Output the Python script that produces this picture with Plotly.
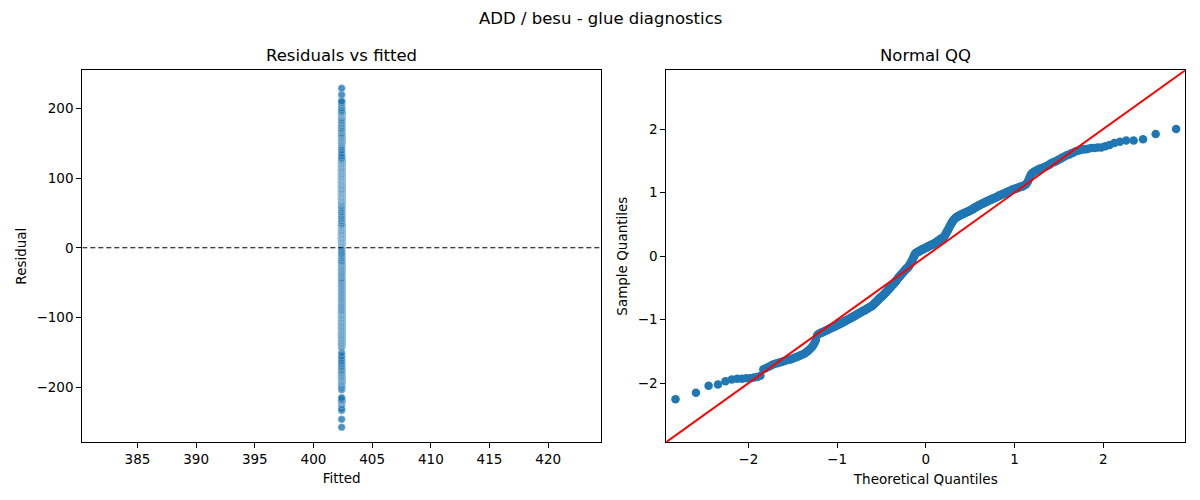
import plotly.graph_objects as go
from statistics import NormalDist

# ---------------- data ----------------
title_text = "ADD / besu - glue diagnostics"
fitted_value = 402.4          # single fitted value of the model
resid_sd = 114.6              # scale used to standardise residuals

# sorted standardised residuals (sample quantiles)
sample_quantiles = [
    -2.25, -2.15, -2.04, -2.02, -1.97, -1.94, -1.93, -1.93, -1.92, -1.92,
    -1.91, -1.90, -1.88,
    -1.78, -1.76, -1.74, -1.72, -1.70, -1.69, -1.68, -1.67, -1.66, -1.65, -1.64, -1.63, -1.63, -1.62,
    -1.61, -1.60, -1.59, -1.58, -1.57, -1.56, -1.55, -1.54, -1.53, -1.51, -1.50, -1.48, -1.46, -1.44,
    -1.42, -1.39, -1.36, -1.32,
    -1.25, -1.23, -1.22,
    -1.21, -1.20, -1.20, -1.19, -1.18, -1.17, -1.17, -1.16, -1.15, -1.14, -1.14, -1.13, -1.12, -1.12,
    -1.11, -1.10, -1.10, -1.09,
    -1.08, -1.07, -1.07, -1.06, -1.05, -1.05, -1.04, -1.03, -1.03, -1.02, -1.01, -1.01, -1.00, -0.99,
    -0.99, -0.98, -0.97, -0.97, -0.96, -0.95, -0.95, -0.94,
    -0.93, -0.93, -0.92, -0.91, -0.91, -0.90, -0.89, -0.89, -0.88, -0.88, -0.87, -0.86, -0.86,
    -0.85, -0.85, -0.84, -0.83, -0.83, -0.82, -0.81, -0.81, -0.80, -0.80, -0.79, -0.79, -0.78,
    -0.77, -0.76, -0.75, -0.74, -0.73, -0.72, -0.71, -0.70, -0.69, -0.68, -0.67, -0.66, -0.65, -0.65, -0.64,
    -0.63, -0.62, -0.61, -0.60, -0.59, -0.58, -0.57, -0.56, -0.55, -0.54, -0.53, -0.52, -0.51, -0.50, -0.49,
    -0.48, -0.47, -0.46, -0.45, -0.44, -0.43, -0.42, -0.41, -0.40, -0.39, -0.38, -0.36, -0.35, -0.34, -0.33,
    -0.32, -0.31, -0.30, -0.29, -0.28, -0.27, -0.26, -0.25, -0.24, -0.23, -0.22, -0.21, -0.20, -0.19, -0.19, -0.18,
    -0.17, -0.16, -0.14, -0.13, -0.11, -0.10, -0.08, -0.07, -0.05,
    -0.03, -0.01, 0.01, 0.03, 0.04,
    0.05, 0.05, 0.06, 0.06, 0.07, 0.07, 0.08, 0.08, 0.09, 0.09, 0.10, 0.10, 0.11, 0.11, 0.11, 0.12, 0.12, 0.13, 0.13,
    0.13, 0.14, 0.14, 0.15, 0.15, 0.16, 0.16, 0.16, 0.17, 0.17, 0.18, 0.18, 0.18, 0.19, 0.19, 0.20, 0.20,
    0.21, 0.21, 0.22, 0.22, 0.23, 0.24, 0.24, 0.25, 0.25, 0.26, 0.27, 0.27, 0.28, 0.28, 0.29, 0.29, 0.30,
    0.31, 0.33, 0.34, 0.36, 0.37, 0.39, 0.40, 0.42,
    0.44, 0.45, 0.47, 0.49, 0.50, 0.52, 0.53, 0.55,
    0.56, 0.57, 0.58, 0.59, 0.60, 0.61, 0.61, 0.62,
    0.62, 0.63, 0.63, 0.64, 0.64, 0.65, 0.65, 0.66, 0.66, 0.67, 0.67, 0.67, 0.68, 0.68, 0.69, 0.69, 0.70,
    0.70, 0.70, 0.71, 0.71, 0.72, 0.72,
    0.73, 0.73, 0.74, 0.74, 0.75, 0.76, 0.76, 0.77, 0.77, 0.78, 0.78, 0.79, 0.80, 0.80, 0.81, 0.81, 0.82,
    0.82, 0.83, 0.83, 0.84,
    0.84, 0.85, 0.85, 0.86, 0.86, 0.87, 0.87, 0.88, 0.88, 0.89, 0.89, 0.90, 0.90, 0.91, 0.91, 0.92, 0.92, 0.93, 0.93,
    0.94, 0.95, 0.95, 0.96, 0.96, 0.97, 0.97, 0.98, 0.98, 0.99, 0.99, 1.00, 1.01, 1.01, 1.02, 1.02, 1.03,
    1.04, 1.04, 1.05, 1.05, 1.06, 1.06, 1.07, 1.07, 1.08, 1.08, 1.09, 1.09, 1.10, 1.10, 1.11,
    1.12, 1.13, 1.15, 1.18, 1.22, 1.26, 1.29, 1.31,
    1.32, 1.33, 1.34, 1.35, 1.36, 1.37, 1.38, 1.38, 1.39, 1.40, 1.41,
    1.42, 1.43, 1.44, 1.46, 1.47, 1.48, 1.49, 1.50, 1.52,
    1.53, 1.55, 1.56, 1.58, 1.59,
    1.60, 1.62, 1.63, 1.65, 1.66,
    1.67, 1.68, 1.68, 1.69, 1.70,
    1.70, 1.71, 1.71,
    1.73, 1.75, 1.78, 1.80, 1.82, 1.82, 1.84, 1.92, 2.00,
]

left_xticks = [385, 390, 395, 400, 405, 410, 415, 420]
left_yticks = [-200, -100, 0, 100, 200]
qq_ticks = [-2, -1, 0, 1, 2]

# ---------------- derived ----------------
n = len(sample_quantiles)
nd = NormalDist()
theoretical = [nd.inv_cdf(i / (n + 1)) for i in range(1, n + 1)]
residuals = [s * resid_sd for s in sample_quantiles]
fitted = [fitted_value] * n

left_xrange = [380.3, 424.5]
left_yrange = [-279, 255]
qq_lim = 2.924

FONT = "DejaVu Sans"
C0 = "#1f77b4"

fig = go.Figure()

# Residuals vs fitted
fig.add_trace(go.Scatter(
    x=fitted, y=residuals, mode="markers", xaxis="x", yaxis="y",
    marker=dict(color=C0, size=7.5, opacity=0.8, line=dict(color="white", width=0.4)),
    showlegend=False, hoverinfo="skip"))
fig.add_trace(go.Scatter(
    x=left_xrange, y=[0, 0], mode="lines", xaxis="x", yaxis="y",
    line=dict(color="black", width=1.1, dash="5px,3px"), showlegend=False, hoverinfo="skip"))

# QQ
fig.add_trace(go.Scatter(
    x=theoretical, y=sample_quantiles, mode="markers", xaxis="x2", yaxis="y2",
    marker=dict(color=C0, size=8.5, line=dict(width=0)),
    showlegend=False, hoverinfo="skip"))
fig.add_trace(go.Scatter(
    x=[-qq_lim, qq_lim], y=[-qq_lim, qq_lim], mode="lines", xaxis="x2", yaxis="y2",
    line=dict(color="red", width=2), showlegend=False, hoverinfo="skip"))

axis_common = dict(
    showgrid=False, zeroline=False, showline=True, linecolor="black", linewidth=1.1,
    mirror=True, ticks="outside", ticklen=5, tickwidth=1.1, tickcolor="black",
    tickfont=dict(family=FONT, size=13.5, color="black"),
)

fig.update_layout(
    width=1200, height=500,
    margin=dict(l=0, r=0, t=0, b=0),
    paper_bgcolor="white", plot_bgcolor="white",
    font=dict(family=FONT, color="black"),
    xaxis=dict(domain=[82.3 / 1200, 601 / 1200], range=left_xrange, tickvals=left_xticks,
               title=dict(text="Fitted", font=dict(family=FONT, size=13.5), standoff=7),
               anchor="y", **axis_common),
    yaxis=dict(domain=[1 - 442 / 500, 1 - 70.3 / 500], range=left_yrange, tickvals=left_yticks,
               title=dict(text="Residual", font=dict(family=FONT, size=13.5), standoff=6),
               anchor="x", **axis_common),
    xaxis2=dict(domain=[666.3 / 1200, 1185.3 / 1200], range=[-qq_lim, qq_lim], tickvals=qq_ticks,
                title=dict(text="Theoretical Quantiles", font=dict(family=FONT, size=13.5), standoff=8),
                anchor="y2", **axis_common),
    yaxis2=dict(domain=[1 - 442 / 500, 1 - 70.3 / 500], range=[-qq_lim, qq_lim], tickvals=qq_ticks,
                title=dict(text="Sample Quantiles", font=dict(family=FONT, size=13.5), standoff=6),
                anchor="x2", **axis_common),
    annotations=[
        dict(text=title_text, x=0.5, y=1 - 18 / 500, xref="paper", yref="paper",
             xanchor="center", yanchor="middle", showarrow=False,
             font=dict(family=FONT, size=16.5, color="black")),
        dict(text="Residuals vs fitted", x=(82.3 + 601) / 2400, y=1 - 56 / 500, xref="paper", yref="paper",
             xanchor="center", yanchor="middle", showarrow=False,
             font=dict(family=FONT, size=16.5, color="black")),
        dict(text="Normal QQ", x=(666.3 + 1185.3) / 2400, y=1 - 56 / 500, xref="paper", yref="paper",
             xanchor="center", yanchor="middle", showarrow=False,
             font=dict(family=FONT, size=16.5, color="black")),
    ],
)

fig.write_html("out.html", config={"displayModeBar": False},
               post_script="document.body.style.margin='0';document.body.style.overflow='hidden';")
